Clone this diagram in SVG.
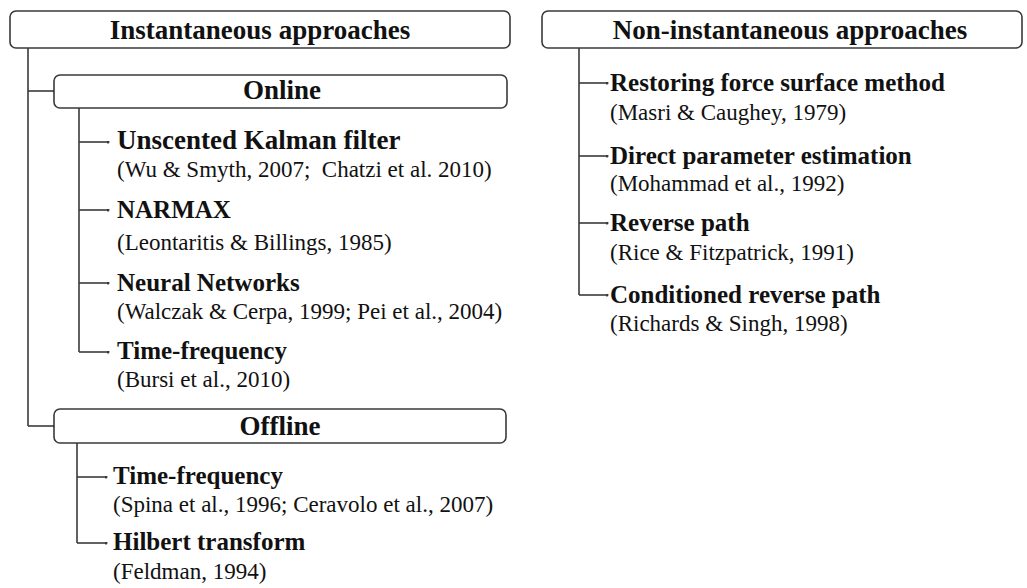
<svg xmlns="http://www.w3.org/2000/svg" width="1027" height="588" viewBox="0 0 1027 588">
<style>
.box{fill:#fff;stroke:#3a3a3a;stroke-width:1.6}
.ln{fill:none;stroke:#3a3a3a;stroke-width:1.6}
.arr{fill:none;stroke:#3a3a3a;stroke-width:1.6;marker-end:url(#dot)}
.h{font-family:"Liberation Serif","Times New Roman",serif;font-weight:bold;font-size:27px;fill:#111}
.b{font-family:"Liberation Serif","Times New Roman",serif;font-weight:bold;font-size:25px;fill:#111}
.c{font-family:"Liberation Serif","Times New Roman",serif;font-size:23px;fill:#111}
</style>
<defs>
<marker id="dot" viewBox="0 0 6 6" refX="3" refY="3" markerWidth="3" markerHeight="3" markerUnits="userSpaceOnUse" orient="auto">
<circle cx="3" cy="3" r="3" fill="#3a3a3a"/>
</marker>
</defs>
<g id="connectors">
<path class="ln" d="M28,48 V426"/>
<path class="arr" d="M28,91 H54"/>
<path class="arr" d="M28,426 H54"/>
<path class="ln" d="M79,108 V352"/>
<path class="arr" d="M79,142 H108"/>
<path class="arr" d="M79,210 H108"/>
<path class="arr" d="M79,283 H108"/>
<path class="arr" d="M79,352 H108"/>
<path class="ln" d="M77,443 V543"/>
<path class="arr" d="M77,477 H106"/>
<path class="arr" d="M77,543 H106"/>
<path class="ln" d="M579,48 V295"/>
<path class="arr" d="M579,83 H607"/>
<path class="arr" d="M579,156 H607"/>
<path class="arr" d="M579,223 H607"/>
<path class="arr" d="M579,295 H607"/>
</g>
<g id="instantaneous">
<rect class="box" x="10" y="11" width="500" height="37" rx="6"/>
<text class="h" x="260" y="39" text-anchor="middle">Instantaneous approaches</text>
</g>
<g id="online">
<rect class="box" x="54" y="75" width="453" height="33" rx="6"/>
<text class="h" x="282" y="99" text-anchor="middle">Online</text>
</g>
<g id="ukf">
<text class="b" x="117" y="149" style="font-size:27px">Unscented Kalman filter</text>
<text class="c" x="117" y="177" xml:space="preserve">(Wu &amp; Smyth, 2007;  Chatzi et al. 2010)</text>
</g>
<g id="narmax">
<text class="b" x="117" y="218">NARMAX</text>
<text class="c" x="117" y="250">(Leontaritis &amp; Billings, 1985)</text>
</g>
<g id="nn">
<text class="b" x="117" y="291">Neural Networks</text>
<text class="c" x="117" y="319">(Walczak &amp; Cerpa, 1999; Pei et al., 2004)</text>
</g>
<g id="tf-online">
<text class="b" x="117" y="359">Time-frequency</text>
<text class="c" x="117" y="387">(Bursi et al., 2010)</text>
</g>
<g id="offline">
<rect class="box" x="54" y="409" width="452" height="34" rx="6"/>
<text class="h" x="280" y="435" text-anchor="middle">Offline</text>
</g>
<g id="tf-offline">
<text class="b" x="113" y="484">Time-frequency</text>
<text class="c" x="113" y="512">(Spina et al., 1996; Ceravolo et al., 2007)</text>
</g>
<g id="hilbert">
<text class="b" x="113" y="550">Hilbert transform</text>
<text class="c" x="113" y="579">(Feldman, 1994)</text>
</g>
<g id="non-instantaneous">
<rect class="box" x="542" y="11" width="480" height="37" rx="6"/>
<text class="h" x="790" y="39" text-anchor="middle">Non-instantaneous approaches</text>
</g>
<g id="rfs">
<text class="b" x="610" y="91">Restoring force surface method</text>
<text class="c" x="610" y="120">(Masri &amp; Caughey, 1979)</text>
</g>
<g id="dpe">
<text class="b" x="610" y="164">Direct parameter estimation</text>
<text class="c" x="610" y="191">(Mohammad et al., 1992)</text>
</g>
<g id="rp">
<text class="b" x="610" y="231">Reverse path</text>
<text class="c" x="610" y="260">(Rice &amp; Fitzpatrick, 1991)</text>
</g>
<g id="crp">
<text class="b" x="610" y="303">Conditioned reverse path</text>
<text class="c" x="610" y="331">(Richards &amp; Singh, 1998)</text>
</g>
</svg>
